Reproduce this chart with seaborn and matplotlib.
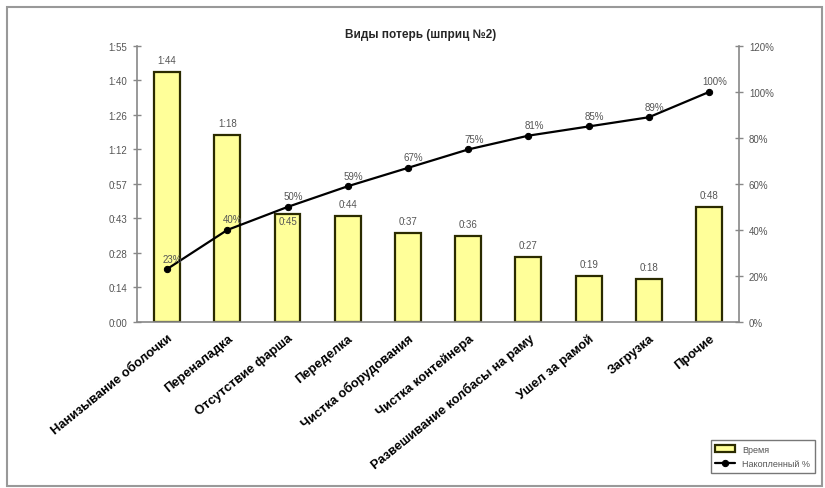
import matplotlib as mpl
import matplotlib.pyplot as plt
import seaborn as sns
import numpy as np
import pandas as pd
mpl.use('agg')

# data (minutes)
categories = ['Нанизывание оболочки', 'Переналадка', 'Отсутствие фарша', 'Переделка',
              'Чистка оборудования', 'Чистка контейнера', 'Развешивание колбасы на раму',
              'Ушел за рамой', 'Загрузка', 'Прочие']
minutes = [104, 78, 45, 44, 37, 36, 27, 19, 18, 48]
time_labels = ['1:44', '1:18', '0:45', '0:44', '0:37', '0:36', '0:27', '0:19', '0:18', '0:48']
cum_pct = [23, 40, 50, 59, 67, 75, 81, 85, 89, 100]
ytick_labels = ['0:00', '0:14', '0:28', '0:43', '0:57', '1:12', '1:26', '1:40', '1:55']
pct_ticks = [0, 20, 40, 60, 80, 100, 120]

sns.set_theme(style='white')
plt.rcParams['font.family'] = ['Liberation Sans', 'DejaVu Sans']

df = pd.DataFrame({'cat': categories, 'min': minutes, 'pct': cum_pct, 'pos': np.arange(len(categories))})

fig = plt.figure(figsize=(8.25, 4.89), dpi=100)
ax = fig.add_axes([0.166, 0.3395, 0.730, 0.5645])

sns.barplot(data=df, x='cat', y='min', color='#FFFF99', saturation=1, edgecolor='#2b2b00',
            linewidth=1.6, width=0.43, ax=ax, label='Время')

ax2 = ax.twinx()
sns.lineplot(data=df, x='pos', y='pct', color='black', marker='o', markersize=4.5,
             markeredgecolor='black', linewidth=1.6, ax=ax2, label='Накопленный %', legend=False)

h1, l1 = ax.get_legend_handles_labels()
h2, l2 = ax2.get_legend_handles_labels()
if ax.get_legend() is not None:
    ax.get_legend().remove()
if ax2.get_legend() is not None:
    ax2.get_legend().remove()

ax.set_xlim(-0.5, len(categories) - 0.5)
ax.set_ylim(0, 115)
ax2.set_ylim(0, 120)

grey = '#555555'
ax.set_yticks(np.linspace(0, 115, len(ytick_labels)))
ax.set_yticklabels(ytick_labels, fontsize=7, color=grey)
ax2.set_yticks(pct_ticks)
ax2.set_yticklabels([f'{p}%' for p in pct_ticks], fontsize=7, color=grey)

ax.set_xticks(range(len(categories)))
ax.set_xticklabels(categories, rotation=39, ha='right', rotation_mode='anchor',
                   fontsize=9.3, fontweight='bold', color='black')
ax.tick_params(axis='x', which='major', length=0, pad=7)
ax.set_xticks(np.arange(0.5, len(categories) - 0.5, 1), minor=True)
ax.tick_params(axis='x', which='minor', length=6, direction='inout', color='#888888', width=1)
ax.tick_params(axis='y', length=6, direction='inout', color='#888888', width=1, pad=4)
ax2.tick_params(axis='y', length=6, direction='inout', color='#888888', width=1, pad=4)

for a in (ax, ax2):
    a.set_xlabel('')
    a.set_ylabel('')
    for s in a.spines.values():
        s.set_visible(False)
ax.spines['left'].set_visible(True)
ax.spines['bottom'].set_visible(True)
ax2.spines['right'].set_visible(True)
for s in (ax.spines['left'], ax.spines['bottom'], ax2.spines['right']):
    s.set_color('#888888')
    s.set_linewidth(1.2)

# value labels
for i, (v, lab) in enumerate(zip(minutes, time_labels)):
    off = -9 if i == 2 else 5
    ax.annotate(lab, (i, v), xytext=(0, off), textcoords='offset points',
                ha='center', va='bottom', fontsize=7, color=grey)
for i, p in enumerate(cum_pct):
    ax2.annotate(f'{p}%', (i, p), xytext=(4, 4), textcoords='offset points',
                 ha='center', va='bottom', fontsize=7, color=grey)

fig.suptitle('Виды потерь (шприц №2)', x=0.51, y=0.94, fontsize=8.5, fontweight='bold')

leg = fig.legend(h1 + h2, l1 + l2, loc='lower right', bbox_to_anchor=(0.993, 0.022),
                 fontsize=6.5, frameon=True, fancybox=False, edgecolor='#555555',
                 handlelength=2.2, borderpad=0.5, labelspacing=0.6)
for t in leg.get_texts():
    t.set_color(grey)

# outer chart frame
fig.patches.append(mpl.patches.Rectangle((0.008, 0.004), 0.988, 0.98, transform=fig.transFigure,
                                         fill=False, edgecolor='#999999', linewidth=1.5))

plt.savefig('out.png', dpi=100)
